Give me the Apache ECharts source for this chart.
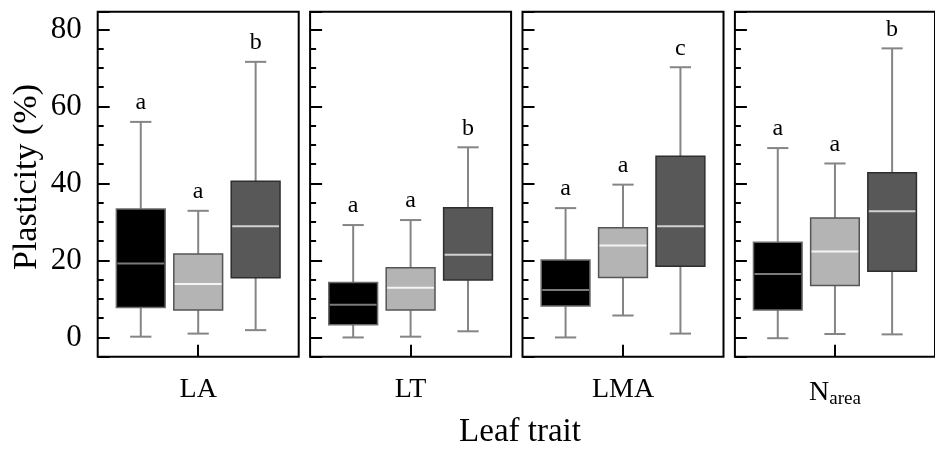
<!DOCTYPE html>
<html>
<head>
<meta charset="utf-8">
<script src="https://cdn.jsdelivr.net/npm/echarts@6/dist/echarts.min.js"></script>
<style>
  html, body { margin: 0; padding: 0; background: #fff; }
  #chart { width: 935px; height: 451px; }
</style>
</head>
<body>
<div id="chart"></div>
<script>
// Leaf traits shown in the four panels
const traits = ['LA', 'LT', 'LMA', 'Narea'];
const traitLabels = ['LA', 'LT', 'LMA', '{n|N}{s|area}'];

// Five-number summaries [min, q1, median, q3, max] of plasticity (%) for the three groups
const statsLA    = [[0.2, 7.8, 19.2, 33.4, 56.0], [1.0, 7.1, 13.9, 21.7, 32.9], [1.9, 15.5, 28.9, 40.6, 71.6]];
const statsLT    = [[0.0, 3.3, 8.5, 14.3, 29.2],  [0.2, 7.1, 12.9, 18.1, 30.5], [1.6, 14.9, 21.5, 33.7, 49.4]];
const statsLMA   = [[0.0, 8.2, 12.3, 20.1, 33.6], [5.7, 15.6, 23.9, 28.5, 39.7], [1.0, 18.5, 28.9, 47.1, 70.2]];
const statsNarea = [[-0.2, 7.1, 16.5, 24.7, 49.2], [0.9, 13.5, 22.3, 31.0, 45.2], [0.8, 17.2, 32.8, 42.8, 75.1]];
const allStats = [statsLA, statsLT, statsLMA, statsNarea];

// Significance letters above each box
const lettersLA    = ['a', 'a', 'b'];
const lettersLT    = ['a', 'a', 'b'];
const lettersLMA   = ['a', 'a', 'c'];
const lettersNarea = ['a', 'a', 'b'];
const allLetters = [lettersLA, lettersLT, lettersLMA, lettersNarea];

// Value axis range
const yMin = -5;
const yMax = 84.6;

// Panel geometry
const PANEL_LEFT = 97.7;
const PANEL_STEP = 212.4;
const PANEL_WIDTH = 201;
const PANEL_TOP = 11.8;
const PANEL_HEIGHT = 344.9;

const SERIF = '"Liberation Serif", "Times New Roman", serif';
const BOX_WIDTH = 0.85;   // in group-position units
const CAP_WIDTH = 0.37;
const WHISKER_COLOR = '#858585';
const groupStyles = [
  { fill: '#000000', border: '#6a6a6a', median: '#7a7a7a' },
  { fill: '#b4b4b4', border: '#555555', median: '#f4f4f4' },
  { fill: '#585858', border: '#2e2e2e', median: '#d0d0d0' }
];

function makeRenderItem(panel) {
  return function (params, api) {
    const x = api.value(0);
    const pLow = api.coord([x, api.value(1)]);
    const pQ1 = api.coord([x, api.value(2)]);
    const pMed = api.coord([x, api.value(3)]);
    const pQ3 = api.coord([x, api.value(4)]);
    const pHigh = api.coord([x, api.value(5)]);
    const half = api.size([BOX_WIDTH, 0])[0] / 2;
    const capHalf = api.size([CAP_WIDTH, 0])[0] / 2;
    const st = groupStyles[params.dataIndex];
    const cx = pMed[0];
    const wStyle = { stroke: WHISKER_COLOR, lineWidth: 2 };
    return {
      type: 'group',
      children: [
        { type: 'line', shape: { x1: cx, y1: pHigh[1], x2: cx, y2: pQ3[1] }, style: wStyle },
        { type: 'line', shape: { x1: cx, y1: pQ1[1], x2: cx, y2: pLow[1] }, style: wStyle },
        { type: 'line', shape: { x1: cx - capHalf, y1: pHigh[1], x2: cx + capHalf, y2: pHigh[1] }, style: wStyle },
        { type: 'line', shape: { x1: cx - capHalf, y1: pLow[1], x2: cx + capHalf, y2: pLow[1] }, style: wStyle },
        {
          type: 'rect',
          shape: { x: cx - half, y: pQ3[1], width: half * 2, height: pQ1[1] - pQ3[1] },
          style: { fill: st.fill, stroke: st.border, lineWidth: 1.5 }
        },
        {
          type: 'line',
          shape: { x1: cx - half + 1, y1: pMed[1], x2: cx + half - 1, y2: pMed[1] },
          style: { stroke: st.median, lineWidth: 2 }
        },
        {
          type: 'text',
          x: cx,
          y: pHigh[1] - 7,
          style: {
            text: allLetters[panel][params.dataIndex],
            fill: '#000',
            font: '24px ' + SERIF,
            align: 'center',
            verticalAlign: 'bottom'
          }
        }
      ]
    };
  };
}

const grids = [], xAxes = [], yAxes = [], series = [];
traits.forEach(function (trait, i) {
  grids.push({
    left: PANEL_LEFT + PANEL_STEP * i,
    top: PANEL_TOP,
    width: PANEL_WIDTH,
    height: PANEL_HEIGHT,
    show: true,
    borderColor: '#000',
    borderWidth: 2,
    backgroundColor: 'transparent'
  });
  xAxes.push({
    type: 'value',
    gridIndex: i,
    min: 0.25,
    max: 3.75,
    axisLine: { show: false, onZero: false },
    splitLine: { show: false },
    axisLabel: { show: false },
    axisTick: {
      show: true, inside: true, length: 12, customValues: [2],
      lineStyle: { color: '#000', width: 2 }
    },
    name: traitLabels[i],
    nameLocation: 'middle',
    nameGap: 19,
    nameTextStyle: {
      fontFamily: SERIF, fontSize: 28, color: '#000',
      rich: {
        n: { fontFamily: SERIF, fontSize: 28, color: '#000' },
        s: { fontFamily: SERIF, fontSize: 19, color: '#000', padding: [14, 0, 0, 0] }
      }
    }
  });
  yAxes.push({
    type: 'value',
    gridIndex: i,
    min: yMin,
    max: yMax,
    axisLine: { show: false, onZero: false },
    splitLine: { show: false },
    axisTick: { show: true, inside: true, length: 12, lineStyle: { color: '#000', width: 2 } },
    minorTick: { show: true, splitNumber: 4, length: 6, lineStyle: { color: '#000', width: 2 } },
    axisLabel: {
      show: i === 0,
      showMinLabel: false,
      showMaxLabel: false,
      margin: 16,
      fontFamily: SERIF,
      fontSize: 31,
      color: '#000'
    }
  });
  series.push({
    type: 'custom',
    xAxisIndex: i,
    yAxisIndex: i,
    renderItem: makeRenderItem(i),
    encode: { x: 0, y: [1, 2, 3, 4, 5] },
    data: allStats[i].map(function (s, g) { return [g + 1].concat(s); }),
    silent: true
  });
});

const chart = echarts.init(document.getElementById('chart'), null, { renderer: 'canvas' });
chart.setOption({
  animation: false,
  backgroundColor: '#fff',
  grid: grids,
  xAxis: xAxes,
  yAxis: yAxes,
  series: series,
  graphic: [
    {
      type: 'text',
      x: 27,
      y: 177,
      rotation: Math.PI / 2,
      style: {
        text: 'Plasticity (%)',
        font: '34px ' + SERIF,
        fill: '#000',
        align: 'center',
        verticalAlign: 'middle'
      }
    },
    {
      type: 'text',
      x: 520,
      y: 432,
      style: {
        text: 'Leaf trait',
        font: '33px ' + SERIF,
        fill: '#000',
        align: 'center',
        verticalAlign: 'middle'
      }
    }
  ]
});
</script>
</body>
</html>
